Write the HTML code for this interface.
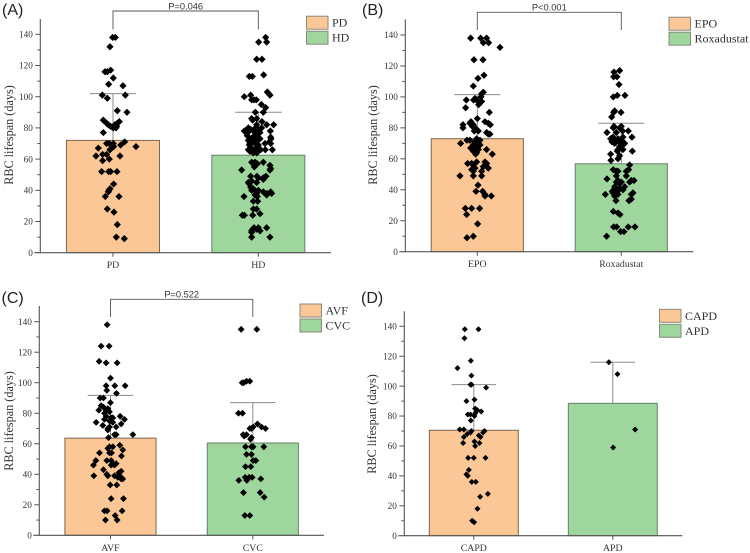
<!DOCTYPE html>
<html lang="en">
<head>
<meta charset="utf-8">
<title>RBC lifespan bar charts</title>
<style>
html,body{margin:0;padding:0;background:#fff;}
body{width:750px;height:553px;overflow:hidden;}
svg{display:block;}
text{font-family:"Liberation Serif",serif;fill:#333;}
.sans{font-family:"Liberation Sans",sans-serif;}
</style>
</head>
<body>
<svg id="figure" width="750" height="553" viewBox="0 0 750 553" xmlns="http://www.w3.org/2000/svg"></svg>
<script>
const yTicks = [0, 20, 40, 60, 80, 100, 120, 140];
const yMinorTicks = [10, 30, 50, 70, 90, 110, 130];

const categoriesA = ["PD", "HD"];
const meansA = [72, 62.5];
const errorTopsA = [102, 90];
const valuesA1 = [138,138,132,117,116,116,112,108,107,101,101,99,91,90,85,84,83,83,82,82,81,81,80,80,77,71,70,70,70,69,68,68,67,66,63,63,62,62,60,59,52,52,52,52,44,41,40,39,36,36,28,26,18,10,9];
const jitterA1 = [-1,7,-9,-7,-24,-17,1,-13,30,-32,37,-17,13,42,-29,19,-19,13,-14,6,-7,11,1,9,-29,35,-19,1,-11,23,69,2,-44,-9,-31,-19,-51,21,-11,-31,-34,-13,-7,12,2,-9,-12,-14,-23,18,-17,3,13,10,34];
const valuesA2 = [138,135,135,124,124,114,113,113,103,102,101,101,100,98,98,98,95,93,90,90,86,86,85,84,82,82,82,80,80,80,79,79,78,78,78,78,77,77,77,75,75,74,74,73,73,73,73,72,72,72,71,71,71,70,70,70,70,69,69,67,67,66,66,66,66,66,66,65,65,64,64,58,58,58,57,57,56,55,54,53,53,49,49,49,48,48,47,46,45,45,44,42,41,40,40,39,39,39,38,38,38,37,37,36,36,33,33,28,28,25,24,24,24,16,16,16,15,15,14,14,13,10,10];
const jitterA2 = [22,1,25,-5,11,16,-27,-18,27,31,-23,35,-42,-20,-6,-13,9,22,-9,15,-5,-20,-17,11,-5,25,46,-30,-5,10,-23,-13,-42,-27,0,36,-37,-10,5,-33,-5,37,-17,-25,-7,5,38,-30,-15,-3,-19,-7,33,-25,-10,20,37,-27,0,-20,-5,-30,-17,-10,7,21,42,-25,0,-15,-5,-20,-10,15,-15,-3,35,-12,37,-50,35,-23,-4,23,0,15,15,-20,-30,-5,-27,-23,-15,-20,0,15,37,-5,-5,25,40,-10,25,-43,-3,-15,-2,-15,-5,5,-48,-42,-17,-13,0,25,-17,-5,-20,5,-20,-20,35];

const categoriesB = ["EPO", "Roxadustat"];
const meansB = [73, 56.8];
const errorTopsB = [101.5, 83];
const valuesB1 = [138,138,138,135,135,132,124,124,114,112,107,103,102,100,99,98,98,98,97,95,93,90,86,84,84,83,83,82,82,82,81,80,80,79,78,78,77,76,76,73,72,72,72,71,70,70,69,69,68,67,67,66,66,65,64,63,63,58,58,57,57,57,56,55,54,54,53,52,52,49,49,49,43,39,39,37,36,36,28,28,28,24,18,10,9];
const jitterB1 = [-20,10,28,18,34,68,-10,17,20,2,-12,18,13,11,-7,-33,-11,-2,13,4,-35,36,0,-19,23,-22,33,-43,39,-12,-15,-43,-7,-2,-9,3,28,38,33,-2,-31,-22,8,-7,-50,3,-12,8,-2,-20,-7,28,3,-12,-2,45,-5,23,-2,-29,-17,28,-12,18,33,-7,-17,-12,13,-52,-12,13,2,-4,16,23,42,23,-36,-17,7,-32,1,-12,-31];
const valuesB2 = [117,116,113,113,108,101,101,100,91,90,90,87,81,81,80,80,78,78,77,77,74,74,74,73,73,72,72,71,71,71,70,70,69,68,66,66,65,65,63,62,60,59,56,53,53,52,52,52,49,49,47,46,46,46,45,45,45,44,42,42,41,41,40,40,39,39,38,38,37,37,37,36,34,33,33,26,25,24,16,16,16,16,13,13,10];
const jitterB2 = [-5,-22,-23,-13,-7,-12,11,-24,-20,-23,-1,-29,-22,0,-5,-24,21,4,-43,-15,32,5,-25,-32,-10,-25,0,-15,-28,-5,10,-20,5,-5,-10,5,33,-12,-32,-5,-10,-31,25,22,-24,-15,-10,15,15,-15,-43,-10,30,38,-15,0,25,-5,-20,10,-15,-5,-22,5,-12,-27,35,-25,-48,30,-10,-20,30,-16,23,-24,-10,-4,-23,-14,21,41,-2,8,-44];

const categoriesC = ["AVF", "CVC"];
const meansC = [63.7, 60.5];
const errorTopsC = [91.7, 87];
const valuesC1 = [138,124,124,114,113,113,103,98,98,98,95,93,90,90,87,85,84,83,82,82,81,80,78,78,77,77,76,76,75,74,74,73,72,71,71,70,69,66,66,66,64,59,58,58,57,56,54,54,54,52,49,49,49,47,47,46,46,46,43,42,41,40,39,39,39,39,38,37,37,33,33,24,24,16,16,16,13,10,10];
const jitterC1 = [-10,-28,-4,-34,-13,20,0,-13,13,44,-11,18,-31,-21,0,-28,-21,-8,-35,-13,-3,-18,29,-13,2,7,42,-18,-3,-43,7,32,-23,-3,17,-8,-8,67,12,17,-6,28,7,-3,-8,37,-33,-3,3,33,-44,-11,2,17,7,-51,2,12,-21,32,25,-11,-50,12,27,-8,22,32,37,-1,19,2,39,-18,-10,35,14,-15,20];
const valuesC2 = [135,135,101,101,100,100,80,80,73,71,71,70,70,70,66,66,65,64,63,58,58,58,58,53,53,49,49,45,45,38,38,38,37,36,36,28,28,25,13,13];
const jitterC2 = [-35,12,-19,-9,-32,-27,-43,-31,14,1,26,-9,-4,38,-29,-19,-26,-4,-7,-22,-4,1,33,-19,-4,1,9,-22,-6,-23,-11,-2,24,-42,-18,-28,22,34,-24,-9];

const categoriesD = ["CAPD", "APD"];
const meansD = [70.5, 88.5];
const errorTopsD = [101, 116];
const valuesD1 = [138,138,132,117,112,107,101,101,99,91,90,85,84,83,82,81,81,80,77,71,71,70,70,69,69,68,67,66,66,63,62,62,60,52,52,52,44,41,40,36,36,28,26,18,10,9];
const jitterD1 = [-27,14,-28,-9,-49,-7,-10,-7,37,2,-22,4,10,22,5,-18,-10,2,-9,-42,-30,-7,32,-10,28,-20,15,-30,20,2,-32,17,4,-17,0,35,-15,-22,-18,-6,6,42,19,11,-5,1];
const valuesD2 = [116,108,71,59];
const jitterD2 = [-12,14,67,1];

const NS = "http://www.w3.org/2000/svg";
const root = document.getElementById("figure");

function make(parent, tag, attrs, name, text) {
  const el = document.createElementNS(NS, tag);
  for (const k in attrs) el.setAttribute(k, attrs[k]);
  
  
  if (text !== undefined) el.textContent = text;
  parent.appendChild(el);
  return el;
}

const AXIS = "#555";
const ERR = "#8c8c8c";
const FILLS = ["#fcc796", "#9ed69d"];
const EDGES = ["#7a6650", "#66806a"];

function drawPanel(p) {
  const g = make(root, "g", {}, "panel-" + p.id.toLowerCase());
  const xScale = c => p.x0 + (c - 0.5) * (p.x1 - p.x0) / 2;
  const yScale = v => p.base - v * (p.base - p.y140) / 140;
  const band = (p.x1 - p.x0) / 2;

  make(g, "text", {x: p.labelX, y: p.labelY, "font-size": 16, "class": "sans", style: "fill:#222"}, "panel-label", "(" + p.id + ")");

  p.cats.forEach((cat, i) => {
    const c = i + 1, cx = xScale(c), hw = 0.32 * band / 1;
    make(g, "rect", {x: cx - hw, y: yScale(p.means[i]), width: 2 * hw, height: p.base - yScale(p.means[i]),
      fill: FILLS[i], stroke: EDGES[i], "stroke-width": 1}, "bar-" + cat.toLowerCase());
    const capW = 0.16 * band;
    make(g, "line", {x1: cx, x2: cx, y1: yScale(p.means[i]), y2: yScale(p.errs[i]), stroke: ERR, "stroke-width": 1}, "error-stem-" + cat.toLowerCase());
    make(g, "line", {x1: cx - capW, x2: cx + capW, y1: yScale(p.errs[i]), y2: yScale(p.errs[i]), stroke: ERR, "stroke-width": 1}, "error-cap-" + cat.toLowerCase());
  });

  p.cats.forEach((cat, i) => {
    const c = i + 1, vals = p.vals[i], jit = p.jits[i], r = p.r;
    vals.forEach((v, k) => {
      const px = xScale(c + jit[k] / (3 * band)), py = yScale(v);
      make(g, "path", {d: `M${px - r} ${py}L${px} ${py - r}L${px + r} ${py}L${px} ${py + r}Z`, fill: "#000"}, "point-" + cat.toLowerCase());
    });
  });

  // axes
  make(g, "line", {x1: p.x0, x2: p.x0, y1: p.top, y2: p.base + 0.6, stroke: AXIS, "stroke-width": 1.1}, "y-axis");
  make(g, "line", {x1: p.x0 - 6, x2: p.x1, y1: p.base, y2: p.base, stroke: AXIS, "stroke-width": 1.1}, "x-axis");
  yTicks.forEach(t => {
    const y = yScale(t);
    if (t > 0) make(g, "line", {x1: p.x0 - 5, x2: p.x0, y1: y, y2: y, stroke: AXIS, "stroke-width": 1}, "y-tick");
    make(g, "text", {x: p.x0 - 7.5, y: y + 3.2, "font-size": 9.2, "text-anchor": "end"}, "y-tick-label", String(t));
  });
  yMinorTicks.forEach(t => {
    const y = yScale(t);
    make(g, "line", {x1: p.x0 - 3, x2: p.x0, y1: y, y2: y, stroke: AXIS, "stroke-width": 1}, "y-minor-tick");
  });
  p.cats.forEach((cat, i) => {
    const cx = xScale(i + 1);
    make(g, "line", {x1: cx, x2: cx, y1: p.base, y2: p.base + 4, stroke: AXIS, "stroke-width": 1}, "x-tick");
    make(g, "text", {x: cx, y: p.base + 15.5, "font-size": 9.8, "text-anchor": "middle"}, "x-tick-label", cat);
  });
  make(g, "text", {transform: `translate(${p.titleX},${p.titleY}) rotate(-90)`, "font-size": 12.2, "text-anchor": "middle"}, "y-axis-title", "RBC lifespan (days)");

  // significance bracket
  if (p.pText) {
    const a = xScale(1), b = xScale(2);
    make(g, "path", {d: `M${a} ${p.brBottom}V${p.brTop}H${b}V${p.brBottom}`, fill: "none", stroke: "#555", "stroke-width": 0.9}, "significance-bracket");
    make(g, "text", {x: (a + b) / 2 + p.pShift, y: p.brTop - 1.6, "font-size": 9.3, "text-anchor": "middle", "class": "sans"}, "p-value-label", p.pText);
  }

  // legend
  p.cats.forEach((cat, i) => {
    const y = p.legY + i * 15;
    make(g, "rect", {x: p.legX, y: y, width: 21.5, height: 13, fill: FILLS[i], stroke: "#8a8a7c", "stroke-width": 1}, "legend-swatch-" + cat.toLowerCase());
    make(g, "text", {x: p.legX + 25.5, y: y + 10.5, "font-size": 12}, "legend-label-" + cat.toLowerCase(), cat);
  });
}

drawPanel({id: "A", cats: categoriesA, means: meansA, errs: errorTopsA, vals: [valuesA1, valuesA2], jits: [jitterA1, jitterA2],
  x0: 40.3, x1: 331, base: 252.7, y140: 34.3, top: 19, r: 3.6, labelX: 2, labelY: 15, titleX: 13, titleY: 135,
  pText: "P=0.046", brTop: 11, brBottom: 29.5, pShift: 0, legX: 306.5, legY: 16.2});
drawPanel({id: "B", cats: categoriesB, means: meansB, errs: errorTopsB, vals: [valuesB1, valuesB2], jits: [jitterB1, jitterB2],
  x0: 405.3, x1: 693.3, base: 251.7, y140: 35, top: 19.3, r: 3.6, labelX: 362, labelY: 15, titleX: 377, titleY: 135,
  pText: "P<0.001", brTop: 12.3, brBottom: 30, pShift: 0, legX: 669, legY: 17.2});
drawPanel({id: "C", cats: categoriesC, means: meansC, errs: errorTopsC, vals: [valuesC1, valuesC2], jits: [jitterC1, jitterC2],
  x0: 39.3, x1: 324, base: 535.3, y140: 321.7, top: 306, r: 3.4, labelX: 1.5, labelY: 303, titleX: 13, titleY: 421,
  pText: "P=0.522", brTop: 299.3, brBottom: 317, pShift: 0, legX: 300, legY: 304});
drawPanel({id: "D", cats: categoriesD, means: meansD, errs: errorTopsD, vals: [valuesD1, valuesD2], jits: [jitterD1, jitterD2],
  x0: 404.3, x1: 682.3, base: 535.7, y140: 326.3, top: 311.3, r: 3, labelX: 361, labelY: 303, titleX: 376, titleY: 424,
  pText: null, legX: 659.5, legY: 309.3});
</script>
</body>
</html>
